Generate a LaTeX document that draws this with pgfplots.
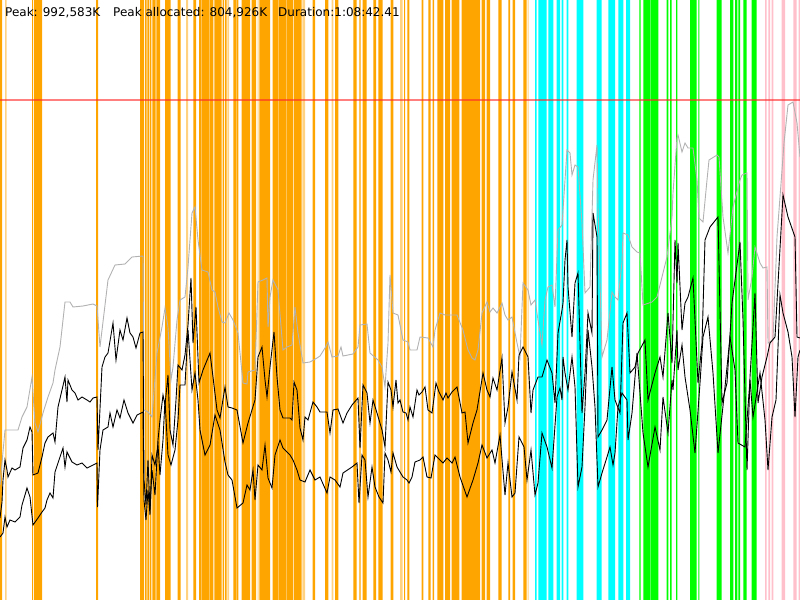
\documentclass[border=0pt]{standalone}
\usepackage{pgfplots}
\pgfplotsset{compat=1.18}
\usepackage{fontspec}
\setmainfont{DejaVu Sans}
\definecolor{cOr}{RGB}{255,165,0}
\definecolor{cOrL}{RGB}{255,210,130}
\definecolor{cCy}{RGB}{0,255,255}
\definecolor{cGr}{RGB}{0,255,0}
\definecolor{cPk}{RGB}{255,192,203}
\definecolor{cRed}{RGB}{255,40,40}
\definecolor{cGray}{RGB}{178,178,178}
\begin{document}
\begin{tikzpicture}
\begin{axis}[
  width=800bp, height=600bp, scale only axis,
  xmin=0, xmax=800, ymin=0, ymax=600, y dir=reverse,
  hide axis, clip=true,
]
% orange stripes
\addplot[const plot, fill=cOr, draw=none] table[row sep=\\] {
x y\\ 0 600\\ 2 0\\ 32 600\\ 33 0\\ 34 600\\ 42 0\\ 96 600\\ 98 0\\
140 600\\ 144 0\\ 145 600\\ 146.7 0\\ 147.3 600\\ 149.3 0\\ 150 600\\ 151.3 0\\ 152.3 600\\ 155.7 0\\ 156.3 600\\ 160 0\\
165 600\\ 170.7 0\\ 177.7 600\\ 180.7 0\\ 193.3 600\\ 196 0\\
199 600\\ 201.5 0\\ 202.2 600\\ 209.5 0\\ 210.2 600\\ 213.3 0\\ 214.3 600\\ 221.7 0\\ 222.7 600\\ 224 0\\
225 600\\ 226.7 0\\ 233.3 600\\ 236 0\\ 236.7 600\\ 238.3 0\\ 241.7 600\\ 250 0\\ 251.7 600\\ 256 0\\
259.3 600\\ 270 0\\ 272.7 600\\ 278 0\\ 278.6 600\\ 286 0\\ 286.6 600\\ 293.3 0\\ 294 600\\ 301.7 0\\
312.7 600\\ 315 0\\ 325 600\\ 328.3 0\\ 335 600\\ 338.3 0\\ 353.3 600\\ 356.7 0\\ 359.3 600\\ 360.7 0\\
362.7 600\\ 366.7 0\\ 373.3 600\\ 376 0\\ 378.3 600\\ 382.7 0\\ 390.7 600\\ 393.3 0\\
404 600\\ 405 0\\ 407.3 600\\ 409.3 0\\ 421.7 600\\ 423.3 0\\ 428.3 600\\ 430.7 0\\ 432.7 600\\ 434 0\\
437.3 600\\ 443.3 0\\ 445 600\\ 450 0\\ 451.7 600\\ 459.3 0\\ 461.7 600\\ 480 0\\ 481.7 600\\ 485 0\\
486.7 600\\ 490 0\\ 498.3 600\\ 501.7 0\\ 508.3 600\\ 510 0\\ 512.7 600\\ 515 0\\ 523.3 600\\ 526.7 0\\
} \closedcycle;
\addplot[const plot, fill=cOrL, draw=none] table[row sep=\\] {
x y\\ 5 600\\ 6.5 0\\ 186 600\\ 188 0\\ 227.3 600\\ 229 0\\ 257.5 600\\ 258.5 0\\ 302.3 600\\ 305 0\\ 331.7 600\\ 333.3 0\\ 400 600\\ 402.7 0\\ 527.5 600\\ 528.5 0\\
} \closedcycle;
% cyan stripes
\addplot[const plot, fill=cCy, draw=none] table[row sep=\\] {
x y\\ 535 600\\ 536.7 0\\ 538.3 600\\ 546.7 0\\ 548.3 600\\ 553.3 0\\ 556.7 600\\ 560 0\\ 561.7 600\\ 563.3 0\\
566.7 600\\ 568.3 0\\ 576.7 600\\ 583.3 0\\ 596.7 600\\ 601.7 0\\ 608.3 600\\ 615 0\\ 618.3 600\\ 623.3 0\\ 626 600\\ 630 0\\
} \closedcycle;
% green stripes
\addplot[const plot, fill=cGr, draw=none] table[row sep=\\] {
x y\\ 639.3 600\\ 640.7 0\\ 643.3 600\\ 650 0\\ 650.7 600\\ 658.3 0\\ 666.7 600\\ 668.3 0\\ 670 600\\ 671.7 0\\
676 600\\ 677.3 0\\ 690 600\\ 696.7 0\\ 698.3 600\\ 699.3 0\\ 716.7 600\\ 721.7 0\\ 730 600\\ 733.3 0\\
735 600\\ 737.3 0\\ 738.3 600\\ 740 0\\ 743.3 600\\ 746.7 0\\ 751.7 600\\ 756.7 0\\
} \closedcycle;
% pink stripes
\addplot[const plot, fill=cPk, draw=none] table[row sep=\\] {
x y\\ 765 600\\ 766.7 0\\ 768.3 600\\ 770 0\\ 771.7 600\\ 773.3 0\\ 781.7 600\\ 785 0\\ 793.3 600\\ 796.7 0\\ 798.5 600\\ 800 0\\
} \closedcycle;
% red peak line
\addplot[color=cRed, draw opacity=0.6, line width=1.6bp] coordinates {(0,100) (800,100)};
% gray line
\addplot[cGray, line width=0.9bp] table[row sep=\\] {
x y\\ 0 485\\ 5 430\\ 18 430\\ 22 417\\ 27 407\\ 32 377\\ 35 423\\ 38 432\\ 43 413\\ 48 397\\ 53 383\\ 55 370\\
60 347\\ 65 302\\ 70 302\\ 73 307\\ 83 306\\ 93 304\\ 97 306\\ 100 347\\ 108 280\\ 115 265\\ 125 264\\ 132 257\\
143 256\\ 144 410\\ 148 412\\ 152 417\\ 157 353\\ 162 327\\ 165 308\\ 168 327\\ 171 380\\ 173 367\\ 177 320\\
180 300\\ 185 297\\ 188 267\\ 192 213\\ 195 207\\ 198 240\\ 202 270\\ 208 272\\ 212 290\\ 215 292\\ 218 307\\
222 322\\ 225 323\\ 229 313\\ 233 320\\ 238 333\\ 243 383\\ 247 384\\ 248 372\\ 255 370\\ 258 282\\ 263 280\\
267 278\\ 268 327\\ 270 297\\ 273 280\\ 278 290\\ 283 350\\ 287 347\\ 292 345\\ 295 307\\ 298 333\\ 303 363\\
310 362\\ 317 358\\ 320 356\\ 325 348\\ 328 342\\ 332 357\\ 338 356\\ 341 347\\ 343 356\\ 353 354\\ 358 347\\
360 325\\ 367 324\\ 370 353\\ 378 360\\ 382 367\\ 385 387\\ 388 343\\ 390 275\\ 393 313\\ 398 315\\ 403 340\\
408 342\\ 410 350\\ 417 350\\ 420 337\\ 428 338\\ 433 347\\ 435 330\\ 440 313\\ 445 315\\ 457 315\\ 463 330\\
468 350\\ 472 358\\ 475 360\\ 478 350\\ 482 313\\ 487 302\\ 490 312\\ 493 308\\ 497 313\\ 502 303\\ 505 315\\
508 320\\ 512 317\\ 517 343\\ 520 357\\ 523 283\\ 528 290\\ 531 305\\ 535 300\\ 538 320\\ 542 345\\ 545 300\\
548 287\\ 552 285\\ 555 307\\ 558 230\\ 562 225\\ 567 150\\ 570 153\\ 572 175\\ 575 165\\ 578 167\\ 582 223\\
585 293\\ 590 287\\ 593 180\\ 597 145\\ 598 207\\ 602 357\\ 607 340\\ 612 292\\ 615 297\\ 618 300\\ 622 262\\
623 233\\ 628 235\\ 632 247\\ 637 252\\ 640 253\\ 643 305\\ 652 302\\ 657 297\\ 663 273\\ 667 257\\ 672 217\\
673 193\\ 677 138\\ 678 135\\ 682 152\\ 685 143\\ 688 148\\ 693 148\\ 697 180\\ 699 218\\ 703 222\\ 707 180\\
709 160\\ 717 155\\ 719 157\\ 723 217\\ 728 253\\ 733 207\\ 740 180\\ 742 175\\ 747 173\\ 748 300\\ 752 277\\
755 247\\ 760 263\\ 763 268\\ 767 267\\ 768 343\\ 773 340\\ 777 237\\ 780 197\\ 784 143\\ 788 105\\ 793 102\\
797 123\\ 800 157\\
};
% upper black line
\addplot[black, line width=0.9bp] table[row sep=\\] {
x y\\ 0 518\\ 2 502\\ 3 480\\ 5 460\\ 7 470\\ 8 477\\ 12 468\\ 15 470\\ 20 467\\ 23 448\\ 27 440\\ 30 427\\
32 432\\ 33 475\\ 38 473\\ 42 457\\ 45 443\\ 48 437\\ 53 433\\ 55 442\\ 58 407\\ 62 390\\ 65 377\\ 67 402\\
68 380\\ 72 390\\ 75 393\\ 78 400\\ 82 397\\ 87 400\\ 90 402\\ 93 398\\ 97 397\\ 98 450\\ 102 367\\ 105 357\\
108 353\\ 113 323\\ 116 360\\ 120 330\\ 123 340\\ 127 318\\ 130 333\\ 133 337\\ 136 348\\ 140 333\\ 143 332\\
144 480\\ 146 505\\ 148 460\\ 150 510\\ 152 470\\ 155 495\\ 158 440\\ 160 420\\ 163 395\\ 165 405\\ 168 375\\
170 430\\ 173 445\\ 176 400\\ 178 365\\ 182 370\\ 185 355\\ 188 325\\ 191 278\\ 193 343\\ 196 307\\ 199 383\\
203 370\\ 210 353\\ 213 377\\ 217 410\\ 220 418\\ 225 387\\ 228 407\\ 232 408\\ 237 410\\ 243 443\\ 248 423\\
255 400\\ 258 357\\ 262 347\\ 265 380\\ 267 397\\ 270 367\\ 274 332\\ 277 377\\ 280 410\\ 283 418\\ 290 418\\
292 420\\ 294 382\\ 297 390\\ 300 428\\ 303 440\\ 305 417\\ 308 420\\ 313 402\\ 317 407\\ 320 412\\ 327 412\\
330 433\\ 333 410\\ 338 409\\ 343 423\\ 347 413\\ 352 405\\ 358 398\\ 360 448\\ 363 385\\ 367 393\\ 370 423\\
373 400\\ 377 413\\ 382 430\\ 385 447\\ 388 382\\ 391 390\\ 393 407\\ 396 380\\ 398 403\\ 400 400\\ 403 412\\
406 413\\ 408 420\\ 410 407\\ 413 417\\ 417 390\\ 419 395\\ 422 392\\ 425 387\\ 428 410\\ 432 413\\ 436 383\\
439 392\\ 443 400\\ 446 393\\ 448 398\\ 452 392\\ 457 387\\ 462 413\\ 465 412\\ 468 443\\ 473 423\\ 477 410\\
483 373\\ 487 390\\ 490 397\\ 493 378\\ 497 390\\ 502 358\\ 505 423\\ 508 407\\ 512 372\\ 517 400\\ 519 355\\
523 347\\ 528 357\\ 531 413\\ 533 390\\ 538 377\\ 542 377\\ 547 360\\ 552 373\\ 555 403\\ 558 333\\ 562 310\\
563 303\\ 565 260\\ 567 240\\ 568 287\\ 572 337\\ 575 283\\ 578 273\\ 582 413\\ 585 373\\ 588 313\\ 592 333\\
593 213\\ 597 237\\ 598 437\\ 602 430\\ 607 420\\ 612 367\\ 615 400\\ 620 413\\ 623 323\\ 627 313\\ 630 373\\
635 367\\ 638 353\\ 645 340\\ 648 400\\ 655 373\\ 660 357\\ 663 377\\ 668 313\\ 672 363\\ 675 240\\ 677 283\\
678 243\\ 682 330\\ 685 303\\ 688 297\\ 693 278\\ 698 383\\ 702 343\\ 705 240\\ 710 227\\ 718 217\\ 722 403\\
727 383\\ 732 303\\ 740 242\\ 743 320\\ 747 470\\ 750 377\\ 755 293\\ 758 403\\ 762 377\\ 767 357\\ 770 343\\
775 337\\ 783 195\\ 788 217\\ 795 237\\ 797 337\\ 800 338\\
};
% lower black line
\addplot[black, line width=0.9bp] table[row sep=\\] {
x y\\ 0 537\\ 3 533\\ 5 517\\ 7 527\\ 10 520\\ 15 522\\ 20 517\\ 22 505\\ 25 495\\ 27 488\\ 30 497\\ 33 525\\
38 518\\ 42 512\\ 45 508\\ 47 500\\ 50 493\\ 53 498\\ 55 472\\ 60 457\\ 63 448\\ 65 467\\ 67 452\\ 72 462\\
77 465\\ 82 463\\ 87 468\\ 93 465\\ 97 463\\ 97.5 507\\ 100 450\\ 103 430\\ 108 427\\ 110 413\\ 113 427\\
117 410\\ 120 418\\ 124 400\\ 128 413\\ 133 423\\ 137 415\\ 143 412\\ 144 500\\ 146 520\\ 148 490\\ 150 515\\
152 455\\ 155 465\\ 158 445\\ 160 475\\ 163 440\\ 165 400\\ 168 455\\ 171 465\\ 175 450\\ 178 420\\ 180 385\\
185 385\\ 188 330\\ 192 390\\ 195 373\\ 198 400\\ 200 430\\ 205 455\\ 210 445\\ 215 415\\ 220 430\\ 225 462\\
228 475\\ 232 480\\ 237 508\\ 243 503\\ 247 485\\ 250 490\\ 253 470\\ 255 500\\ 258 465\\ 262 470\\ 265 445\\
268 478\\ 272 488\\ 275 455\\ 280 440\\ 283 448\\ 290 455\\ 293 460\\ 297 470\\ 300 480\\ 305 482\\ 310 470\\
315 480\\ 320 477\\ 327 493\\ 330 477\\ 335 480\\ 340 487\\ 343 473\\ 352 467\\ 357 463\\ 359 503\\ 362 455\\
365 460\\ 368 497\\ 372 467\\ 375 487\\ 379 497\\ 383 503\\ 385 453\\ 388 460\\ 391 472\\ 393 453\\ 397 467\\
400 472\\ 403 477\\ 407 480\\ 409 483\\ 412 477\\ 415 462\\ 420 460\\ 423 457\\ 427 477\\ 431 478\\ 435 455\\
440 460\\ 443 463\\ 447 458\\ 452 463\\ 455 457\\ 460 477\\ 467 497\\ 473 480\\ 478 463\\ 482 445\\ 487 458\\
492 450\\ 495 463\\ 500 435\\ 505 495\\ 508 463\\ 512 497\\ 515 493\\ 519 437\\ 524 447\\ 527 480\\ 531 450\\
535 495\\ 538 483\\ 542 433\\ 547 447\\ 552 468\\ 557 397\\ 560 388\\ 562 400\\ 563 357\\ 565 373\\ 568 390\\
572 357\\ 575 387\\ 578 487\\ 582 467\\ 585 407\\ 588 330\\ 592 367\\ 595 407\\ 598 487\\ 602 473\\ 607 457\\
610 447\\ 613 465\\ 615 453\\ 618 407\\ 622 393\\ 627 400\\ 628 440\\ 632 413\\ 637 353\\ 643 433\\ 648 467\\
655 427\\ 660 450\\ 663 397\\ 668 433\\ 672 380\\ 673 390\\ 677 330\\ 678 370\\ 682 345\\ 685 377\\ 690 410\\
695 453\\ 700 383\\ 703 337\\ 708 317\\ 713 373\\ 718 453\\ 725 387\\ 730 337\\ 735 370\\ 738 443\\ 745 447\\
750 380\\ 753 417\\ 760 373\\ 765 420\\ 768 470\\ 772 417\\ 776 400\\ 780 295\\ 783 313\\ 788 332\\ 792 357\\
795 417\\ 798 357\\ 800 350\\
};
\node[anchor=base west, font=\fontsize{12bp}{14bp}\selectfont, inner sep=0pt] at (axis cs:5,17) {Peak: 992,583K};
\node[anchor=base west, font=\fontsize{12bp}{14bp}\selectfont, inner sep=0pt] at (axis cs:113,17) {Peak allocated: 804,926K};
\node[anchor=base west, font=\fontsize{12bp}{14bp}\selectfont, inner sep=0pt] at (axis cs:278,17) {Duration:1:08:42.41};
\end{axis}
\end{tikzpicture}
\end{document}
